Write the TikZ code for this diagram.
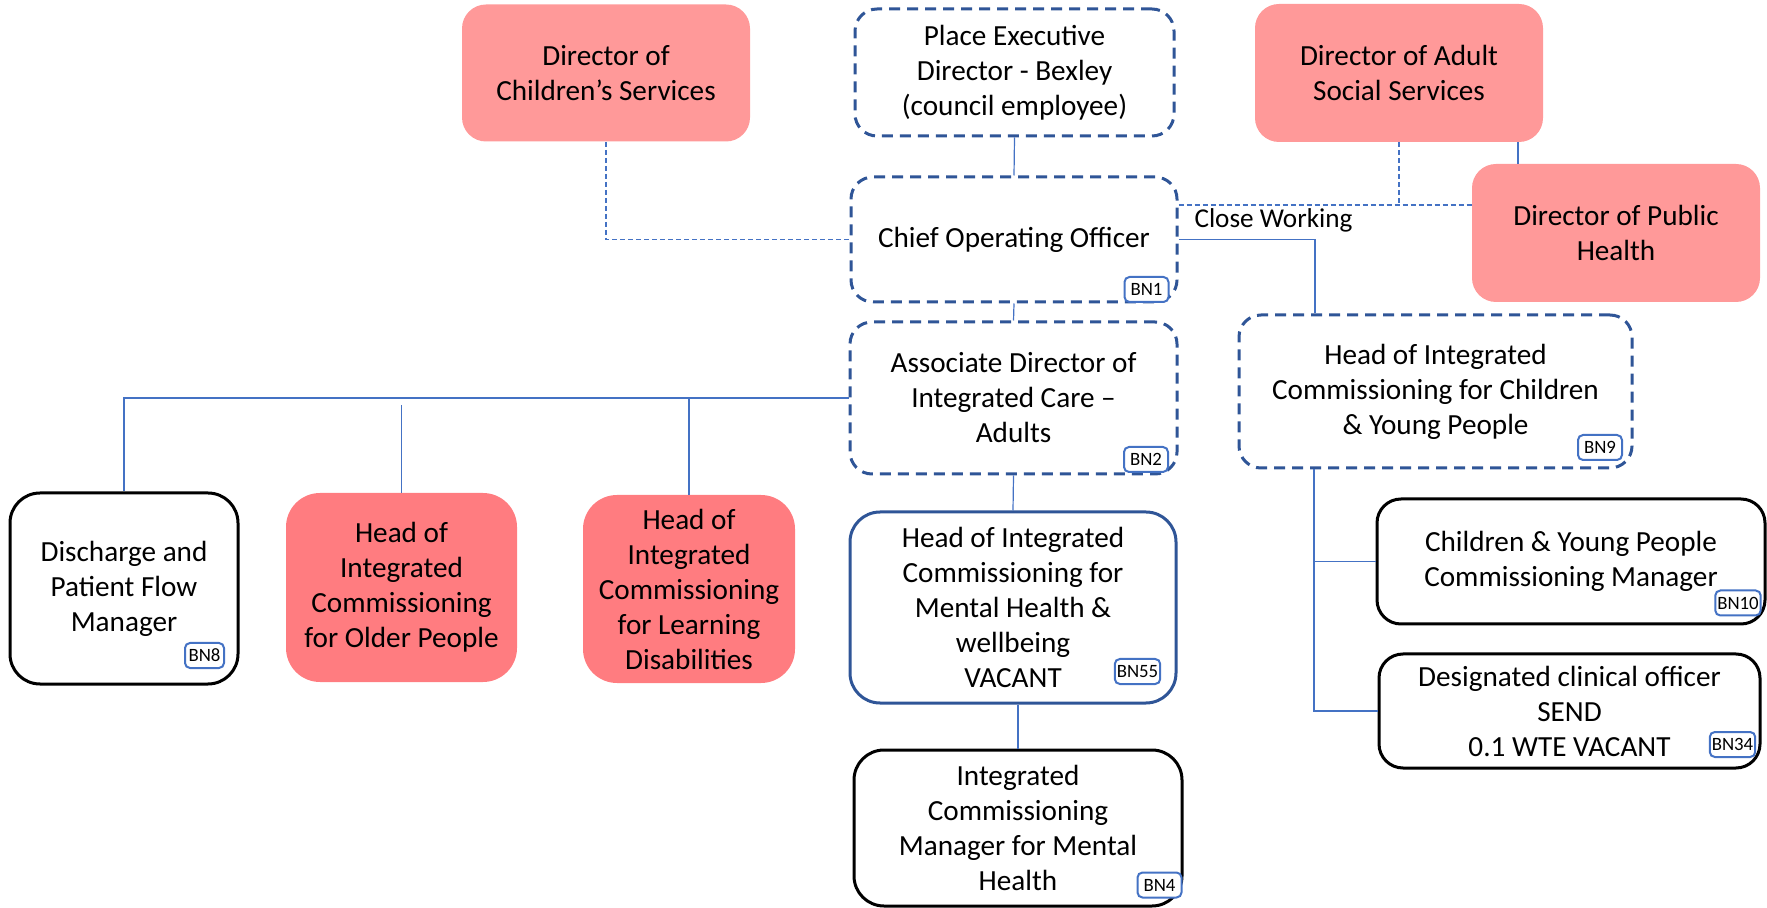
\documentclass[tikz,border=0pt]{standalone}
\usepackage{fontspec}
\setmainfont{Carlito}
\usetikzlibrary{calc}
\definecolor{topPink}{HTML}{FF9999}
\definecolor{lowPink}{HTML}{FF7C80}
\definecolor{dkBlue}{HTML}{2F5597}
\definecolor{lnBlue}{HTML}{4472C4}
\tikzset{
  orgbox/.style={rectangle, rounded corners=12pt, inner sep=0pt, align=center,
    font=\fontsize{14.6pt}{17.5pt}\selectfont, text=black},
  pinkbox/.style={orgbox, fill=topPink},
  redbox/.style={orgbox, fill=lowPink},
  dashbox/.style={orgbox, draw=dkBlue, line width=1.5pt, dash pattern=on 5.5pt off 3.5pt, rounded corners=11pt},
  blackbox/.style={orgbox, draw=black, line width=1.5pt, rounded corners=15pt},
  bluebox/.style={orgbox, draw=dkBlue, line width=1.5pt, rounded corners=15pt},
  bntag/.style={rectangle, rounded corners=2.5pt, draw=lnBlue, line width=1pt, fill=white,
    inner sep=1pt, minimum width=22pt, minimum height=12.5pt,
    font=\fontsize{9.4pt}{10pt}\selectfont},
  conn/.style={draw=lnBlue, line width=0.6pt},
  dconn/.style={draw=lnBlue, line width=0.6pt, dash pattern=on 2.5pt off 1.5pt},
}
\begin{document}
\begin{tikzpicture}[x=0.5pt, y=-0.5pt]
\useasboundingbox (0,0) rectangle (1767,908);

% top row
\node[pinkbox, minimum width=144pt, minimum height=68.5pt] (dcs) at (606,73) {Director of\\Children’s Services};
\node[dashbox, minimum width=159.5pt, minimum height=63.5pt] (ped) at (1014.5,72.5) {Place Executive\\Director - Bexley\\(council employee)};
\node[pinkbox, minimum width=144pt, minimum height=69pt] (dass) at (1399,73) {Director of Adult\\Social Services};
\node[pinkbox, minimum width=144pt, minimum height=69pt] (dph) at (1616,233) {Director of Public\\Health};

% middle
\node[dashbox, minimum width=163pt, minimum height=62.5pt] (coo) at (1014,239.5) {Chief Operating Officer};
\node[dashbox, minimum width=163.5pt, minimum height=76pt] (ad) at (1013.5,398) {Associate Director of\\Integrated Care –\\Adults};
\node[dashbox, minimum width=196.5pt, minimum height=76.5pt] (hcyp) at (1435.5,391.5) {Head of Integrated\\Commissioning for Children\\\& Young People};

% lower row
\node[blackbox, minimum width=114pt, minimum height=95.5pt] (dpfm) at (124,588.5) {Discharge and\\Patient Flow\\Manager};
\node[redbox, minimum width=115.5pt, minimum height=94.5pt, rounded corners=17pt] (icop) at (401.5,587.5) {Head of\\Integrated\\Commissioning\\for Older People};
\node[redbox, minimum width=106pt, minimum height=94pt, rounded corners=17pt] (icld) at (689,589) {Head of\\Integrated\\Commissioning\\for Learning\\Disabilities};
\node[bluebox, minimum width=163pt, minimum height=95.5pt] (hmh) at (1013,607.5) {Head of Integrated\\Commissioning for\\Mental Health \&\\wellbeing\\VACANT};
\node[blackbox, minimum width=164pt, minimum height=78pt] (icm) at (1018,828) {Integrated\\Commissioning\\Manager for Mental\\Health};
\node[blackbox, minimum width=194pt, minimum height=62.5pt, rounded corners=12pt] (cypcm) at (1571,561.5) {Children \& Young People\\Commissioning Manager};
\node[blackbox, minimum width=190.5pt, minimum height=57pt, rounded corners=12pt] (dco) at (1569.5,711) {Designated clinical officer\\SEND\\0.1 WTE VACANT};

% BN tags
\node[bntag] (bn1) at (1146.5,289.5) {BN1};
\node[bntag] (bn2) at (1146,459.5) {BN2};
\node[bntag] (bn9) at (1600,447.5) {BN9};
\node[bntag] (bn55) at (1137.5,671.5) {BN55};
\node[bntag] (bn10) at (1738,603) {BN10};
\node[bntag] (bn34) at (1732.5,744.5) {BN34};
\node[bntag, minimum width=19.5pt] (bn8) at (204.5,655.5) {BN8};
\node[bntag] (bn4) at (1159.5,885) {BN4};

% label
\node[font=\fontsize{13.6pt}{16pt}\selectfont, inner sep=0pt] (cwl) at (1273.5,220) {Close Working};

% connectors
\draw[conn] (ped.south) -- (coo.north);
\draw[conn] (coo.south) -- (ad.north);
\draw[conn] (ad.south) -- (hmh.north);
\draw[conn] (hmh.south -| icm.north) -- (icm.north);
\draw[dconn] (dcs.south) |- (coo.west);
\coordinate (cyptop) at ([xshift=-60.25pt]hcyp.north);
\draw[conn] (coo.east) -| (cyptop);
\coordinate (cw) at ([yshift=17.25pt]coo.east);
\draw[dconn] (cw) -- (cw -| dph.west);
\draw[dconn] (dass.south) -- (dass.south |- cw);
\coordinate (ds) at ([xshift=59.5pt]dass.south);
\draw[conn] (ds) -- (ds |- dph.north);
\draw[conn] (ad.west) -| (dpfm.north);
\draw[conn] (icld.north |- ad.west) -- (icld.north);
\coordinate (opt) at (401.5,405);
\draw[conn] (opt) -- (icop.north);
\coordinate (cyb) at ([xshift=-60.75pt]hcyp.south);
\draw[conn] (cyb) |- (dco.west);
\draw[conn] (cyb |- cypcm.west) -- (cypcm.west);
\end{tikzpicture}
\end{document}
